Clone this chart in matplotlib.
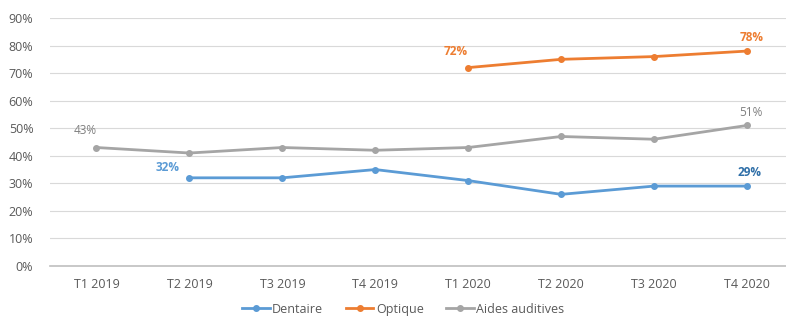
import matplotlib
matplotlib.use("Agg")
from matplotlib import pyplot as plt
import numpy as np

plt.rcParams['font.family'] = ['Open Sans', 'DejaVu Sans']

trimestres = ["T1 2019", "T2 2019", "T3 2019", "T4 2019",
              "T1 2020", "T2 2020", "T3 2020", "T4 2020"]
dentaire = [np.nan, 32, 32, 35, 31, 26, 29, 29]
optique = [np.nan, np.nan, np.nan, np.nan, 72, 75, 76, 78]
aides = [43, 41, 43, 42, 43, 47, 46, 51]

bleu = "#5B9BD5"
orange = "#ED7D31"
gris = "#A5A5A5"

fig = plt.figure(figsize=(7.86, 3.18), dpi=100)
ax = fig.add_axes([50/786, 52/318, 1 - 50/786, 248/318])

x = np.arange(len(trimestres))
ax.plot(x, np.array(dentaire) / 100, color=bleu, lw=2, marker="o", ms=4, label="Dentaire")
ax.plot(x, np.array(optique) / 100, color=orange, lw=2, marker="o", ms=4, label="Optique")
ax.plot(x, np.array(aides) / 100, color=gris, lw=2, marker="o", ms=4, label="Aides auditives")

# étiquettes de données
ax.annotate("32%", (1, dentaire[1] / 100), xytext=(-16, 5), textcoords="offset points",
            ha="center", color=bleu, fontsize=8.5, fontweight="bold")
ax.annotate("29%", (7, dentaire[7] / 100), xytext=(2, 7), textcoords="offset points",
            ha="center", color="#2F6FA8", fontsize=8.5, fontweight="bold")
ax.annotate("72%", (4, optique[4] / 100), xytext=(-9, 9), textcoords="offset points",
            ha="center", color=orange, fontsize=8.5, fontweight="bold")
ax.annotate("78%", (7, optique[7] / 100), xytext=(3, 7), textcoords="offset points",
            ha="center", color=orange, fontsize=8.5, fontweight="bold")
ax.annotate("43%", (0, aides[0] / 100), xytext=(-8, 10), textcoords="offset points",
            ha="center", color="#7F7F7F", fontsize=8.5)
ax.annotate("51%", (7, aides[7] / 100), xytext=(3, 7), textcoords="offset points",
            ha="center", color="#7F7F7F", fontsize=8.5)

ax.set_xlim(-0.5, 7.42)
ax.set_ylim(0, 0.9)
ax.set_yticks(np.arange(0, 0.91, 0.1))
ax.set_yticklabels([f"{int(round(v*100))}%" for v in np.arange(0, 0.91, 0.1)])
ax.set_xticks(x)
ax.set_xticklabels(trimestres)
ax.tick_params(length=0, colors="#595959", labelsize=9)
ax.tick_params(axis="x", pad=9)
ax.tick_params(axis="y", pad=12)

ax.grid(axis="y", color="#D9D9D9", lw=0.8)
ax.set_axisbelow(True)
for s in ["top", "right", "left"]:
    ax.spines[s].set_visible(False)
ax.spines["bottom"].set_color("#BFBFBF")
ax.spines["bottom"].set_linewidth(1.2)

leg = ax.legend(loc="lower center", bbox_to_anchor=(0.48, -0.23), ncol=3, frameon=False,
                fontsize=9, handlelength=2.2, columnspacing=1.8, handletextpad=0.2,
                labelcolor="#595959", borderpad=0.1)

fig.savefig("out.png", dpi=100)
